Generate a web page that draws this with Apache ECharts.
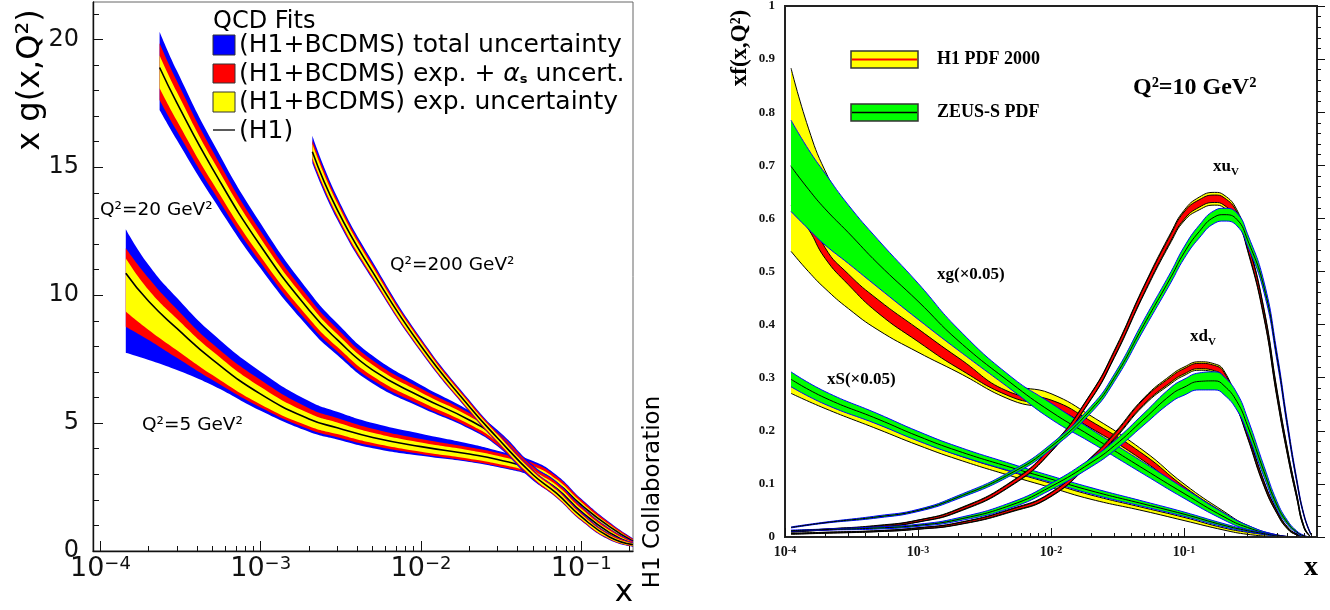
<!DOCTYPE html>
<html>
<head>
<meta charset="utf-8">
<script src="https://cdn.jsdelivr.net/npm/echarts@6/dist/echarts.min.js"></script>
<style>
  html, body { margin: 0; background: #fff; }
  #chart { width: 1330px; height: 610px; }
</style>
</head>
<body>
<div id="chart"></div>
<script>
// ---- left panel: x g(x,Q^2), H1 QCD fits ----
const q5X = [1.44e-4, 2e-4, 3e-4, 5e-4, 1e-3, 2e-3, 3e-3, 5e-3, 1e-2, 2e-2, 3e-2, 5e-2, 7e-2, 0.1, 0.15, 0.21];
const q5Mid = [10.86, 9.76, 8.70, 7.48, 6.13, 5.16, 4.82, 4.44, 4.08, 3.79, 3.58, 3.18, 2.67, 1.80, 0.95, 0.38];
const q5YelUp = [0.58, 0.44, 0.38, 0.33, 0.28, 0.22, 0.20, 0.18, 0.16, 0.15, 0.14, 0.14, 0.13, 0.11, 0.08, 0.05];
const q5YelDn = [1.50, 1.12, 0.85, 0.60, 0.40, 0.28, 0.25, 0.22, 0.20, 0.18, 0.17, 0.14, 0.13, 0.11, 0.08, 0.05];
const q5RedUp = [0.97, 0.90, 0.75, 0.62, 0.55, 0.42, 0.38, 0.34, 0.30, 0.27, 0.26, 0.26, 0.24, 0.20, 0.14, 0.09];
const q5RedDn = [2.09, 1.51, 1.15, 0.80, 0.52, 0.40, 0.37, 0.33, 0.29, 0.27, 0.26, 0.22, 0.20, 0.17, 0.12, 0.08];
const q5BluUp = [1.72, 1.42, 1.20, 1.02, 0.88, 0.70, 0.62, 0.56, 0.50, 0.40, 0.34, 0.34, 0.30, 0.24, 0.17, 0.11];
const q5BluDn = [3.11, 2.29, 1.62, 1.00, 0.65, 0.50, 0.46, 0.42, 0.36, 0.31, 0.30, 0.26, 0.24, 0.20, 0.14, 0.09];

const q20X = [2.34e-4, 3e-4, 5e-4, 1e-3, 2e-3, 3e-3, 5e-3, 1e-2, 2e-2, 3e-2, 5e-2, 7e-2, 0.1, 0.15, 0.21];
const q20Mid = [18.90, 17.52, 14.95, 11.92, 9.42, 8.26, 7.07, 6.03, 5.12, 4.40, 3.05, 2.45, 1.54, 0.72, 0.28];
const q20YelUp = [0.47, 0.42, 0.35, 0.30, 0.25, 0.22, 0.20, 0.17, 0.15, 0.14, 0.14, 0.13, 0.11, 0.08, 0.05];
const q20YelDn = [0.81, 0.70, 0.55, 0.42, 0.32, 0.28, 0.24, 0.20, 0.17, 0.15, 0.14, 0.13, 0.11, 0.08, 0.05];
const q20RedUp = [0.95, 0.85, 0.70, 0.58, 0.48, 0.43, 0.38, 0.32, 0.27, 0.25, 0.24, 0.22, 0.19, 0.14, 0.09];
const q20RedDn = [1.27, 1.10, 0.85, 0.65, 0.52, 0.46, 0.40, 0.34, 0.28, 0.26, 0.24, 0.22, 0.19, 0.14, 0.09];
const q20BluUp = [1.40, 1.25, 1.05, 0.88, 0.72, 0.64, 0.56, 0.46, 0.37, 0.33, 0.30, 0.27, 0.23, 0.17, 0.11];
const q20BluDn = [1.66, 1.45, 1.15, 0.88, 0.70, 0.60, 0.52, 0.42, 0.34, 0.31, 0.29, 0.27, 0.23, 0.17, 0.11];

const q200X = [2.1e-3, 3e-3, 5e-3, 1e-2, 2e-2, 3e-2, 5e-2, 7e-2, 0.1, 0.15, 0.21];
const q200Mid = [15.61, 13.34, 10.90, 8.01, 5.65, 4.42, 2.98, 2.26, 1.34, 0.55, 0.25];
const q200YelUp = [0.30, 0.26, 0.20, 0.16, 0.13, 0.13, 0.12, 0.12, 0.10, 0.07, 0.05];
const q200YelDn = [0.25, 0.22, 0.18, 0.15, 0.13, 0.13, 0.12, 0.12, 0.10, 0.07, 0.05];
const q200RedUp = [0.45, 0.38, 0.30, 0.24, 0.20, 0.19, 0.18, 0.17, 0.15, 0.11, 0.07];
const q200RedDn = [0.35, 0.30, 0.25, 0.20, 0.18, 0.18, 0.17, 0.16, 0.14, 0.10, 0.07];
const q200BluUp = [0.62, 0.50, 0.40, 0.30, 0.25, 0.23, 0.21, 0.20, 0.18, 0.13, 0.09];
const q200BluDn = [0.45, 0.38, 0.30, 0.24, 0.21, 0.20, 0.19, 0.18, 0.16, 0.12, 0.08];

// ---- right panel: xf(x,Q^2) at Q^2 = 10 GeV^2 ----
const gluX = [1.11e-4, 1.5e-4, 2e-4, 3e-4, 5e-4, 1e-3, 2e-3, 5e-3, 1e-2, 2e-2, 5e-2, 0.1, 0.2, 0.3, 0.5, 0.7];
const h1GluYelHi = [0.883, 0.77, 0.69, 0.61, 0.54, 0.46, 0.38, 0.292, 0.270, 0.228, 0.162, 0.100, 0.048, 0.022, 0.004, 0];
const h1GluYelLo = [0.538, 0.50, 0.468, 0.43, 0.39, 0.348, 0.31, 0.258, 0.238, 0.198, 0.137, 0.080, 0.035, 0.015, 0.002, 0];
const h1GluRedHi = [0.70, 0.62, 0.545, 0.495, 0.447, 0.392, 0.338, 0.272, 0.258, 0.218, 0.155, 0.095, 0.045, 0.020, 0.003, 0];
const h1GluRedLo = [0.625, 0.58, 0.525, 0.475, 0.422, 0.368, 0.318, 0.264, 0.245, 0.205, 0.143, 0.085, 0.038, 0.016, 0.002, 0];
const zeusGluHi = [0.785, 0.73, 0.685, 0.625, 0.56, 0.478, 0.392, 0.302, 0.252, 0.203, 0.140, 0.092, 0.045, 0.022, 0.004, 0];
const zeusGluMid = [0.698, 0.655, 0.618, 0.573, 0.515, 0.444, 0.37, 0.29, 0.236, 0.190, 0.128, 0.082, 0.038, 0.018, 0.003, 0];
const zeusGluLo = [0.613, 0.58, 0.55, 0.515, 0.47, 0.41, 0.352, 0.278, 0.222, 0.178, 0.118, 0.073, 0.032, 0.014, 0.002, 0];

const seaX = [1.11e-4, 2e-4, 5e-4, 1e-3, 2e-3, 5e-3, 1e-2, 2e-2, 5e-2, 0.1, 0.2, 0.3, 0.5];
const zeusSeaMid = [0.297, 0.262, 0.222, 0.190, 0.162, 0.131, 0.109, 0.087, 0.062, 0.043, 0.022, 0.012, 0.002];
const zeusSeaErr = [0.014, 0.012, 0.010, 0.009, 0.008, 0.007, 0.006, 0.006, 0.005, 0.004, 0.003, 0.002, 0.001];
const h1SeaMid = [0.277, 0.248, 0.208, 0.178, 0.150, 0.119, 0.097, 0.075, 0.052, 0.034, 0.015, 0.007, 0.001];
const h1SeaErr = [0.0065, 0.006, 0.005, 0.005, 0.004, 0.004, 0.004, 0.004, 0.003, 0.003, 0.002, 0.002, 0.001];

const valX = [1.11e-4, 2e-4, 5e-4, 1e-3, 2e-3, 5e-3, 1e-2, 2e-2, 3e-2, 5e-2, 0.08, 0.1, 0.13, 0.17, 0.2, 0.25, 0.3, 0.4, 0.5, 0.6, 0.7, 0.8, 0.9];
const h1UvMid = [0.010, 0.014, 0.020, 0.030, 0.050, 0.100, 0.165, 0.265, 0.345, 0.465, 0.565, 0.605, 0.628, 0.637, 0.632, 0.605, 0.550, 0.420, 0.270, 0.160, 0.080, 0.018, 0];
const h1UvYel = [0.001, 0.001, 0.002, 0.002, 0.003, 0.004, 0.005, 0.006, 0.007, 0.008, 0.009, 0.010, 0.012, 0.012, 0.012, 0.011, 0.010, 0.009, 0.008, 0.006, 0.004, 0.002, 0];
const h1UvRed = [0.0005, 0.0008, 0.001, 0.0015, 0.002, 0.003, 0.004, 0.005, 0.005, 0.006, 0.006, 0.007, 0.007, 0.007, 0.007, 0.007, 0.007, 0.006, 0.005, 0.004, 0.003, 0.001, 0];
const zeusUvMid = [0.018, 0.027, 0.038, 0.050, 0.075, 0.120, 0.170, 0.240, 0.300, 0.400, 0.490, 0.535, 0.575, 0.603, 0.607, 0.598, 0.560, 0.470, 0.340, 0.210, 0.110, 0.040, 0.005];
const zeusUvErr = [0.001, 0.001, 0.002, 0.002, 0.003, 0.004, 0.005, 0.006, 0.007, 0.009, 0.010, 0.011, 0.012, 0.012, 0.012, 0.012, 0.011, 0.010, 0.008, 0.006, 0.004, 0.002, 0.001];
const h1DvMid = [0.006, 0.008, 0.011, 0.016, 0.025, 0.050, 0.080, 0.145, 0.190, 0.255, 0.297, 0.312, 0.322, 0.318, 0.305, 0.250, 0.193, 0.100, 0.047, 0.017, 0.005, 0.001, 0];
const h1DvYel = [0.0008, 0.001, 0.001, 0.0015, 0.002, 0.003, 0.004, 0.005, 0.006, 0.007, 0.008, 0.008, 0.008, 0.008, 0.008, 0.007, 0.006, 0.005, 0.003, 0.002, 0.001, 0.0005, 0];
const h1DvRed = [0.0005, 0.0006, 0.0007, 0.001, 0.0015, 0.002, 0.003, 0.004, 0.004, 0.005, 0.005, 0.005, 0.005, 0.005, 0.005, 0.005, 0.004, 0.003, 0.002, 0.001, 0.0007, 0.0003, 0];
const zeusDvMid = [0.012, 0.014, 0.017, 0.022, 0.033, 0.060, 0.095, 0.140, 0.172, 0.222, 0.268, 0.282, 0.293, 0.294, 0.285, 0.255, 0.210, 0.123, 0.060, 0.027, 0.010, 0.002, 0];
const zeusDvErr = [0.001, 0.001, 0.002, 0.002, 0.003, 0.005, 0.006, 0.008, 0.009, 0.011, 0.014, 0.015, 0.016, 0.017, 0.017, 0.016, 0.014, 0.010, 0.007, 0.004, 0.002, 0.001, 0];

// axis ticks / labels
const leftXLabels = [1e-4, 1e-3, 1e-2, 1e-1];
const leftYLabels = [0, 5, 10, 15, 20];
const rightXLabels = [1e-4, 1e-3, 1e-2, 1e-1];
const rightYLabels = [0, 0.1, 0.2, 0.3, 0.4, 0.5, 0.6, 0.7, 0.8, 0.9, 1];

const FL = '"DejaVu Sans", sans-serif';
const FR = '"Liberation Serif", serif';
const lg = Math.log10;
const LX_MIN = -4.0462, LX_MAX = -0.6775;
const SMOOTH = 0.5;

// points are [y, log10 x] so that the stacked dimension is y
function pts(xs, ys) { return xs.map((x, i) => [ys[i], lg(x)]); }
function plus(a, b) { return a.map((v, i) => v + b[i]); }
function minus(a, b) { return a.map((v, i) => v - b[i]); }

let bandNo = 0;
function lineBase(ax, z) {
    return {type: 'line', xAxisIndex: ax, yAxisIndex: ax, symbol: 'none', smooth: SMOOTH, z: z,
        encode: {x: 1, y: 0}, silent: true, animation: false};
}
// filled band between lo and hi (stacked area), optional edge lines
function band(ax, z, xs, lo, hi, fill, edge) {
    const id = 'band' + (bandNo++);
    const out = [
        Object.assign(lineBase(ax, z), {stack: id, stackStrategy: 'all', data: pts(xs, lo),
            lineStyle: {width: 0, opacity: 0}}),
        Object.assign(lineBase(ax, z), {stack: id, stackStrategy: 'all', data: pts(xs, minus(hi, lo)),
            areaStyle: {color: fill, opacity: 1},
            lineStyle: edge ? {color: edge, width: 1} : {width: 0, opacity: 0}})
    ];
    if (edge) out.push(Object.assign(lineBase(ax, z), {data: pts(xs, lo), lineStyle: {color: edge, width: 1}}));
    return out;
}
function curve(ax, z, xs, ys, color, w) {
    return Object.assign(lineBase(ax, z), {data: pts(xs, ys), lineStyle: {color: color, width: w}});
}
function logMinors(d0, d1, lo, hi) {
    const out = [];
    for (let d = d0; d <= d1; d++) for (let k = 2; k <= 9; k++) {
        const v = d + lg(k);
        if (v > lo + 0.01 && v < hi - 0.01) out.push(v);
    }
    return out;
}

const series = [];
// left panel
[[q5X, q5Mid, q5BluUp, q5BluDn, q5RedUp, q5RedDn, q5YelUp, q5YelDn],
 [q20X, q20Mid, q20BluUp, q20BluDn, q20RedUp, q20RedDn, q20YelUp, q20YelDn],
 [q200X, q200Mid, q200BluUp, q200BluDn, q200RedUp, q200RedDn, q200YelUp, q200YelDn]].forEach((c, k) => {
    const [xs, mid, bu, bd, ru, rd, yu, yd] = c;
    const z = 2 + k;
    series.push(...band(0, z, xs, minus(mid, bd), plus(mid, bu), '#0000ff', null));
    series.push(...band(0, z, xs, minus(mid, rd), plus(mid, ru), '#ff0000', null));
    series.push(...band(0, z, xs, minus(mid, yd), plus(mid, yu), '#ffff00', null));
    series.push(curve(0, z, xs, mid, '#000', 1.6));
});
// right panel: per distribution, H1 first then ZEUS-S on top
series.push(...band(2, 2, gluX, h1GluYelLo, h1GluYelHi, '#ffff00', '#000'));
series.push(...band(2, 2, gluX, h1GluRedLo, h1GluRedHi, '#ff0000', '#000'));
series.push(...band(2, 3, gluX, zeusGluLo, zeusGluHi, '#00ff00', '#0000ff'));
series.push(curve(2, 3, gluX, zeusGluMid, '#000', 1));
series.push(...band(2, 4, seaX, minus(h1SeaMid, h1SeaErr), plus(h1SeaMid, h1SeaErr), '#ffff00', '#000'));
series.push(...band(2, 5, seaX, minus(zeusSeaMid, zeusSeaErr), plus(zeusSeaMid, zeusSeaErr), '#00ff00', '#0000ff'));
series.push(curve(2, 5, seaX, zeusSeaMid, '#000', 1));
series.push(...band(2, 6, valX, minus(h1UvMid, h1UvYel), plus(h1UvMid, h1UvYel), '#ffff00', '#000'));
series.push(...band(2, 6, valX, minus(h1UvMid, h1UvRed), plus(h1UvMid, h1UvRed), '#ff0000', '#000'));
series.push(...band(2, 7, valX, minus(zeusUvMid, zeusUvErr), plus(zeusUvMid, zeusUvErr), '#00ff00', '#0000ff'));
series.push(curve(2, 7, valX, zeusUvMid, '#000', 1));
series.push(...band(2, 8, valX, minus(h1DvMid, h1DvYel), plus(h1DvMid, h1DvYel), '#ffff00', '#000'));
series.push(...band(2, 8, valX, minus(h1DvMid, h1DvRed), plus(h1DvMid, h1DvRed), '#ff0000', '#000'));
series.push(...band(2, 9, valX, minus(zeusDvMid, zeusDvErr), plus(zeusDvMid, zeusDvErr), '#00ff00', '#0000ff'));
series.push(curve(2, 9, valX, zeusDvMid, '#000', 1));

const leftYMinor = [];
for (let v = 1; v <= 21; v++) if (v % 5) leftYMinor.push(v);
const rightYMinor = [];
for (let i = 1; i < 50; i++) if (i % 5) rightYMinor.push(i / 50);

const AZ = 20;
const tickL = {lineStyle: {color: '#111', width: 1}, inside: true};
const xAxis = [
    {gridIndex: 0, type: 'value', min: LX_MIN, max: LX_MAX, position: 'bottom', z: AZ,
     axisLine: {show: true, lineStyle: {color: '#111', width: 1.4}}, splitLine: {show: false},
     axisTick: Object.assign({length: 10, customValues: leftXLabels.map(lg)}, tickL),
     axisLabel: {customValues: leftXLabels.map(lg), margin: 4,
        formatter: v => '{b|10}{e|−' + Math.round(-v) + '}',
        rich: {b: {fontFamily: FL, fontSize: 27, lineHeight: 27, verticalAlign: 'bottom', color: '#111'},
               e: {fontFamily: FL, fontSize: 18, lineHeight: 18, padding: [0, 0, 17, 0], verticalAlign: 'top', color: '#111'}}}},
    {gridIndex: 0, type: 'value', min: LX_MIN, max: LX_MAX, position: 'bottom', z: AZ,
     axisLine: {show: false}, splitLine: {show: false}, axisLabel: {show: false},
     axisTick: Object.assign({length: 5, customValues: logMinors(-5, -1, LX_MIN, LX_MAX)}, tickL)},
    {gridIndex: 1, type: 'value', min: -4, max: 0, position: 'bottom', z: AZ,
     axisLine: {show: true, lineStyle: {color: '#222', width: 2}}, splitLine: {show: false},
     axisTick: Object.assign({length: 9, customValues: rightXLabels.map(lg)}, tickL),
     axisLabel: {customValues: rightXLabels.map(lg), margin: 8,
        formatter: v => '{b|10}{e|-' + Math.round(-v) + '}',
        rich: {b: {fontFamily: FR, fontWeight: 'bold', fontSize: 14, lineHeight: 14, verticalAlign: 'bottom', color: '#111'},
               e: {fontFamily: FR, fontWeight: 'bold', fontSize: 10, lineHeight: 10, padding: [0, 0, 8, 0], verticalAlign: 'top', color: '#111'}}}},
    {gridIndex: 1, type: 'value', min: -4, max: 0, position: 'bottom', z: AZ,
     axisLine: {show: false}, splitLine: {show: false}, axisLabel: {show: false},
     axisTick: Object.assign({length: 4, customValues: logMinors(-4, -1, -4, 0)}, tickL)}
];
const yAxis = [
    {gridIndex: 0, type: 'value', min: 0, max: 21.46, position: 'left', z: AZ,
     axisLine: {show: true, lineStyle: {color: '#111', width: 1.4}}, splitLine: {show: false},
     axisTick: Object.assign({length: 10, customValues: leftYLabels}, tickL),
     axisLabel: {customValues: leftYLabels, margin: 14, fontFamily: FL, fontSize: 24, color: '#111'}},
    {gridIndex: 0, type: 'value', min: 0, max: 21.46, position: 'left', z: AZ,
     axisLine: {show: false}, splitLine: {show: false}, axisLabel: {show: false},
     axisTick: Object.assign({length: 6, customValues: leftYMinor}, tickL)},
    {gridIndex: 1, type: 'value', min: 0, max: 1, position: 'left', z: AZ,
     axisLine: {show: true, lineStyle: {color: '#222', width: 2}}, splitLine: {show: false},
     axisTick: Object.assign({length: 8, customValues: rightYLabels}, tickL),
     axisLabel: {customValues: rightYLabels, margin: 10, fontFamily: FR, fontWeight: 'bold', fontSize: 13, color: '#111'}},
    {gridIndex: 1, type: 'value', min: 0, max: 1, position: 'left', z: AZ,
     axisLine: {show: false}, splitLine: {show: false}, axisLabel: {show: false},
     axisTick: Object.assign({length: 4, customValues: rightYMinor}, tickL)}
];

function txt(x, y, text, font, extra) {
    return {type: 'text', x: x, y: y, silent: true, z: 30,
        style: Object.assign({text: text, font: font, fill: '#000', align: 'left', verticalAlign: 'middle'}, extra || {})};
}
function box(x, y, w, h, fill, stroke, lw) {
    return {type: 'rect', silent: true, z: 30, shape: {x: x, y: y, width: w, height: h},
        style: {fill: fill, stroke: stroke, lineWidth: lw}};
}
function hline(x1, x2, y, color, w) {
    return {type: 'line', silent: true, z: 31, shape: {x1: x1, y1: y, x2: x2, y2: y}, style: {stroke: color, lineWidth: w}};
}
const subRich = {m: {font: 'bold 17px ' + FR, verticalAlign: 'top'},
                 s: {font: 'bold 11px ' + FR, padding: [9, 0, 0, 0], verticalAlign: 'bottom'}};

const graphic = [
    // left legend
    txt(213, 22, 'QCD Fits', '24px ' + FL),
    box(213, 35, 22, 20, '#0000ff', '#333', 1),
    box(213, 64, 22, 19, '#ff0000', '#333', 1),
    box(213, 92, 22, 20, '#ffff00', '#333', 1),
    hline(213, 235, 130, '#000', 1.3),
    txt(239, 45, '(H1+BCDMS) total uncertainty', '25px ' + FL),
    txt(239, 74, '(H1+BCDMS) exp. + {a|α}{s|s} uncert.', '25px ' + FL, {
        rich: {a: {font: 'italic 25px ' + FL}, s: {font: 'bold 13px ' + FL, padding: [9, 0, 0, 0], verticalAlign: 'bottom'}}}),
    txt(239, 102, '(H1+BCDMS) exp. uncertainty', '25px ' + FL),
    txt(239, 131, '(H1)', '25px ' + FL),
    txt(100, 210, 'Q²=20 GeV²', '18.5px ' + FL),
    txt(142, 425, 'Q²=5 GeV²', '18.5px ' + FL),
    txt(390, 265, 'Q²=200 GeV²', '18.5px ' + FL),
    txt(624, 593, 'x', '31px ' + FL, {align: 'center'}),
    Object.assign(txt(31, 80, 'x g(x,Q²)', '32px ' + FL, {align: 'center'}), {rotation: Math.PI / 2}),
    Object.assign(txt(653, 492, 'H1 Collaboration', '23px ' + FL, {align: 'center'}), {rotation: Math.PI / 2}),
    // right legend and labels
    box(851, 51, 67, 17, '#ffff00', '#333', 1.5),
    hline(852, 917, 59.5, '#ff0000', 2),
    box(851, 104, 67, 17, '#00ff00', '#333', 1.5),
    hline(852, 917, 112.5, '#000', 1.5),
    txt(937, 59, 'H1 PDF 2000', 'bold 18px ' + FR),
    txt(937, 112, 'ZEUS-S PDF', 'bold 18px ' + FR),
    txt(1133, 88, 'Q²=10 GeV²', 'bold 24px ' + FR),
    txt(1213, 168, '{m|xu}{s|V}', 'bold 17px ' + FR, {rich: subRich}),
    txt(1190, 338, '{m|xd}{s|V}', 'bold 17px ' + FR, {rich: subRich}),
    txt(937, 275, 'xg(×0.05)', 'bold 17px ' + FR),
    txt(827, 380, 'xS(×0.05)', 'bold 17px ' + FR),
    txt(1311, 568, 'x', 'bold 28px ' + FR, {align: 'center'}),
    Object.assign(txt(740, 48, 'xf(x,Q²)', 'bold 23px ' + FR, {align: 'center'}), {rotation: Math.PI / 2})
];

const chart = echarts.init(document.getElementById('chart'), null, {renderer: 'canvas'});
chart.setOption({
    animation: false,
    backgroundColor: '#fff',
    grid: [
        {left: 93, top: 2, width: 540, height: 549, show: true, borderColor: '#666', borderWidth: 1,
         backgroundColor: 'transparent', outerBoundsMode: 'none'},
        {left: 785, top: 6, width: 532, height: 531, show: true, borderColor: '#222', borderWidth: 2,
         backgroundColor: 'transparent', outerBoundsMode: 'none'}
    ],
    xAxis: xAxis,
    yAxis: yAxis,
    series: series,
    graphic: graphic
});
</script>
</body>
</html>
